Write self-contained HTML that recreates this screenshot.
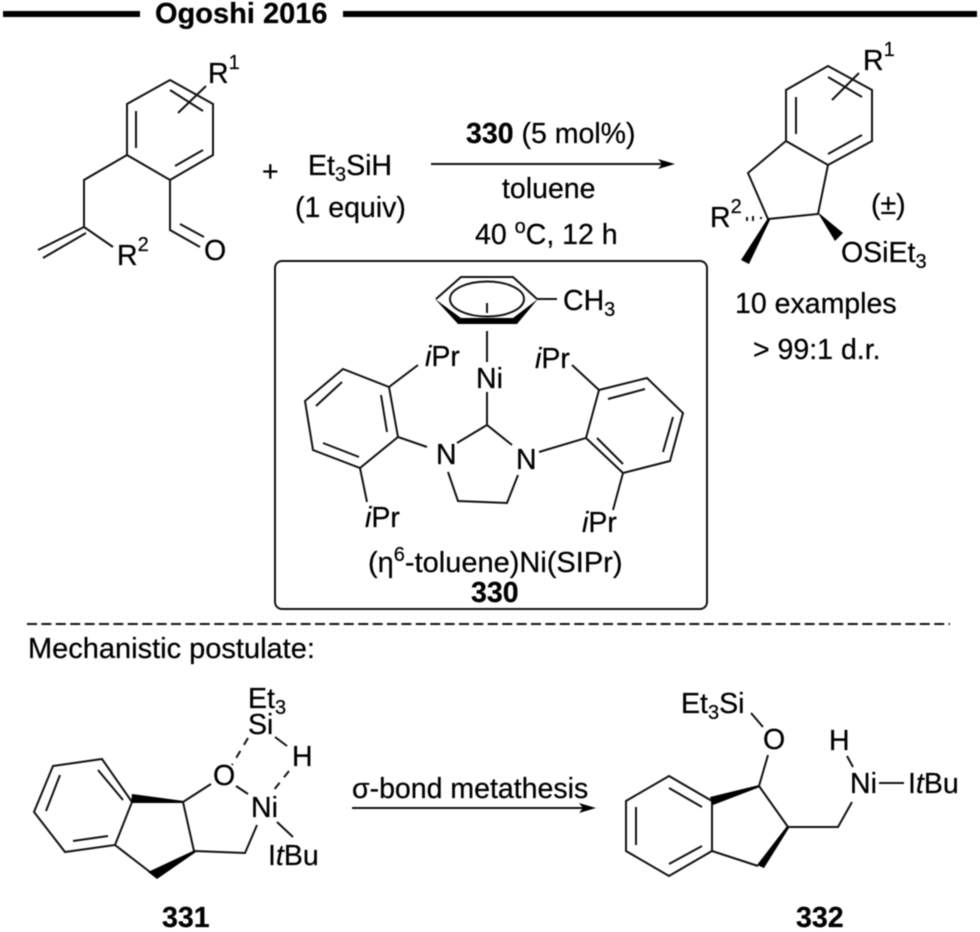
<!DOCTYPE html>
<html>
<head>
<meta charset="utf-8">
<style>
html,body{margin:0;padding:0;background:#fff;}
svg{display:block;filter:blur(0.4px);}
text{font-family:"Liberation Sans",sans-serif;font-size:28.5px;fill:#000;stroke:#000;stroke-width:0.25px;}
.b{font-weight:bold;}
.i{font-style:italic;}
.s{stroke:#111;stroke-width:2;fill:none;stroke-linejoin:miter;stroke-linecap:butt;}
.f{fill:#000;stroke:none;}
</style>
</head>
<body>
<svg width="980" height="932" viewBox="0 0 980 932" xmlns="http://www.w3.org/2000/svg">
<!-- header -->
<rect x="3" y="11" width="137" height="6" fill="#000"/>
<rect x="343" y="11" width="634" height="6" fill="#000"/>
<text x="155" y="23" class="b" font-size="29" style="font-size:29px">Ogoshi 2016</text>

<!-- substrate -->
<path class="s" d="M170 80L213 104L213 155L170 180L127 155L127 104Z"/>
<path class="s" d="M136 111L136 148M203 150L175 166M170 90L203 111M178 113L206 86"/>
<path class="s" d="M127 155L84 180L84 227L113 247M84 227L38 250M86 233L43 258"/>
<path class="s" d="M170 180L170 230L200 247M180 224L204 237"/>
<text x="208" y="83">R<tspan style="font-size:20px" dy="-14">1</tspan></text>
<text x="117" y="265">R<tspan style="font-size:20px" dy="-14">2</tspan></text>
<text x="204" y="260">O</text>
<text x="262" y="181">+</text>
<text x="308" y="175">Et<tspan style="font-size:20px" dy="6">3</tspan><tspan dy="-6">SiH</tspan></text>
<text x="295" y="217">(1 equiv)</text>

<!-- arrow top -->
<path class="s" d="M431 164L668 164"/>
<path class="f" d="M675 164L658 159L662 164L658 169Z"/>
<text x="466" y="143"><tspan class="b">330</tspan> (5 mol%)</text>
<text x="502" y="198">toluene</text>
<text x="475" y="244">40 <tspan style="font-size:20px" dy="-11">o</tspan><tspan dy="11">C, 12 h</tspan></text>

<!-- product -->
<path class="s" d="M828 66L872 90L872 141L828 165L786 141L786 90Z"/>
<path class="s" d="M796 97L796 134M862 135L828 154M828 77L862 97M832 100L859 73"/>
<path class="s" d="M786 141L748 173L768 219L818 214L828 165"/>
<path class="f" d="M768 218L741 260L749 264L770 220Z"/>
<path class="f" d="M818 213L835 241L843 233L820 214Z"/>
<path class="s" stroke-width="1.5" d="M747 217L747 221M753 216L753 221M761 217L761 219"/>
<text x="863" y="70">R<tspan style="font-size:20px" dy="-14">1</tspan></text>
<text x="710" y="227">R<tspan style="font-size:20px" dy="-14">2</tspan></text>
<text x="841" y="262">OSiEt<tspan style="font-size:20px" dy="6">3</tspan></text>
<text x="871" y="214">(±)</text>
<text x="735" y="313">10 examples</text>
<text x="753" y="359">&gt; 99:1 d.r.</text>

<!-- catalyst box -->
<rect x="275" y="261" width="432" height="348" rx="7" ry="7" class="s"/>
<path class="s" d="M436 299L461 277L513 277L537 299"/>
<path class="f" d="M435 299L458 324L517 324L538 299L513 318L461 318Z"/>
<ellipse cx="487" cy="299" rx="37" ry="17.5" class="s"/>
<path class="s" d="M487 303L487 313M487 331L487 362M537 299L557 299"/>
<text x="563" y="310">CH<tspan style="font-size:20px" dy="6">3</tspan></text>
<text x="476" y="388">Ni</text>
<path class="s" d="M487 392L487 425M457 443L487 425L512 445"/>
<text x="436" y="464">N</text>
<text x="516" y="469">N</text>
<path class="s" d="M448 472L458 501L507 503L518 475"/>
<path class="s" d="M427 447L398 437L389 387L343 369L305 401L313 450L360 468L398 437"/>
<path class="s" d="M381 395L387 432M342 382L316 406M323 443L359 457"/>
<path class="s" d="M389 387L418 365M360 468L367 502"/>
<text x="425" y="366"><tspan class="i">i</tspan>Pr</text>
<text x="365" y="527"><tspan class="i">i</tspan>Pr</text>
<path class="s" d="M539 452L586 438L599 390L647 378L683 413L670 461L623 473L586 438"/>
<path class="s" d="M608 399L645 389M673 417L663 452M597 438L623 464"/>
<path class="s" d="M599 390L572 365M623 473L613 510"/>
<text x="535" y="368"><tspan class="i">i</tspan>Pr</text>
<text x="582" y="532"><tspan class="i">i</tspan>Pr</text>
<text x="368" y="572" style="font-size:29px">(η<tspan style="font-size:20px" dy="-11">6</tspan><tspan dy="11">-toluene)Ni(SIPr)</tspan></text>
<text x="471" y="602" class="b">330</text>

<!-- dashed -->
<path d="M27 624L950 624" stroke="#111" stroke-width="2" stroke-dasharray="10 4.4" fill="none"/>
<text x="28" y="658" style="font-size:29px">Mechanistic postulate:</text>

<!-- 331 -->
<path class="s" d="M53 766L102 759L132 802L115 845L65 852L34 812Z"/>
<path class="s" d="M98 770L123 800M73 841L108 836M60 775L46 811"/>
<path class="f" d="M184 801L132 794L131 803L184 803Z"/>
<path class="s" d="M183 802L194 851M115 845L150 872"/>
<path class="f" d="M195 850L148 872L157 879L196 852Z"/>
<path class="s" d="M194 851L245 853L257 825M183 802L211 784M236 786L248 794M277 822L293 837M275 737L287 746"/>
<path class="s" stroke-dasharray="8 7" d="M248 738L232 765M289 771L273 791"/>
<text x="213" y="785">O</text>
<text x="251" y="817">Ni</text>
<text x="268" y="865">I<tspan class="i">t</tspan>Bu</text>
<text x="248" y="708">Et<tspan style="font-size:20px" dy="6">3</tspan></text>
<text x="248" y="734">Si</text>
<text x="292" y="766">H</text>
<text x="162" y="927" class="b">331</text>

<!-- arrow bottom -->
<text x="352" y="798">σ-bond metathesis</text>
<path class="s" d="M352 808L589 808"/>
<path class="f" d="M596 808L579 803L583 808L579 813Z"/>

<!-- 332 -->
<path class="s" d="M669 776L712 801L712 851L669 876L626 851L626 801Z"/>
<path class="s" d="M669 788L702 807M702 846L669 864M636 807L636 845"/>
<path class="f" d="M759 785L710 797L713 805L760 787Z"/>
<path class="s" d="M759 786L788 827M712 851L758 866"/>
<path class="f" d="M787 826L757 865L764 868L789 828Z"/>
<path class="s" d="M788 827L838 827L852 802M759 786L768 755M763 727L751 713M847 756L853 767M879 783L904 783"/>
<text x="763" y="749">O</text>
<text x="681" y="713">Et<tspan style="font-size:20px" dy="6">3</tspan><tspan dy="-6">Si</tspan></text>
<text x="829" y="750">H</text>
<text x="850" y="793">Ni</text>
<text x="908" y="793">I<tspan class="i">t</tspan>Bu</text>
<text x="796" y="927" class="b">332</text>
</svg>
</body>
</html>
